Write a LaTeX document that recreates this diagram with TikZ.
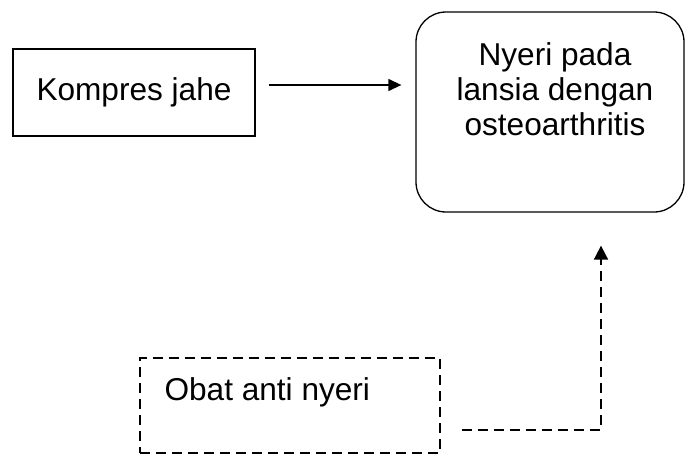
\documentclass[tikz,border=0pt]{standalone}
\usepackage{fontspec}
\setmainfont{Liberation Sans}
\usetikzlibrary{arrows.meta}

\tikzset{
    box/.style={draw, line width=1.3pt, rectangle},
    dashbox/.style={draw, line width=1.8pt, rectangle, dash pattern=on 10pt off 6pt},
    conn/.style={line width=1.3pt, -{Triangle[length=13pt,width=12pt]}},
    dashconn/.style={line width=1.8pt, dash pattern=on 10pt off 6pt,
        -{Triangle[length=14pt,width=14pt]}}
}

\begin{document}
\begin{tikzpicture}[x=1pt, y=-1pt, font=\fontsize{31.6}{35}\selectfont]
        \useasboundingbox (0, 0) rectangle (686, 455);
        \node[box, minimum width=242pt, minimum height=87pt] (kompres) at (134, 92.5) {Kompres jahe};
        \node[box, rounded corners=30pt, minimum width=268pt, minimum height=200pt] (nyeri) at (550, 112) {};
        \node[align=center] (nyeritext) at (555, 89) {Nyeri pada\\lansia dengan\\osteoarthritis};
        \node[dashbox, minimum width=300pt, minimum height=95pt] (obat) at (290, 405.5) {};
        \node[anchor=base west] (obattext) at (161, 400) {Obat anti nyeri};
        \draw[conn, shorten <=13pt, shorten >=14pt] (kompres.east |- 0, 85) -- (nyeri.west |- 0, 85);
        \draw[dashconn, shorten <=21pt, shorten >=33pt] (obat.east |- 0, 430) -| (nyeri.south -| 601, 0);
    \end{tikzpicture}
\end{document}
